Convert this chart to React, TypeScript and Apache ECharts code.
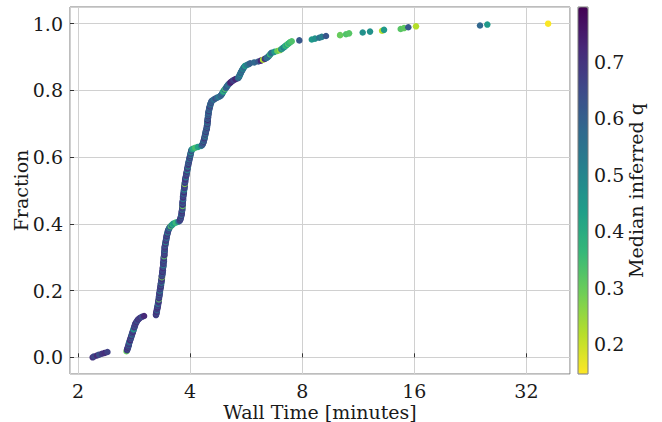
import React, { useEffect, useRef } from "react";
import * as echarts from "echarts";

// Wall time (minutes) of each run, sorted ascending; fraction = rank / (N - 1)
const wallTimeMinutes: number[] = [
  2.19, 2.21, 2.25, 2.28, 2.32, 2.36, 2.40,
  2.70, 2.71, 2.71, 2.72, 2.72, 2.73, 2.73, 2.74, 2.74, 2.74, 2.75, 2.75, 2.76, 2.76,
  2.77, 2.77, 2.78, 2.78, 2.79, 2.79, 2.80, 2.80, 2.81, 2.81,
  2.82, 2.82, 2.83, 2.83, 2.84, 2.84, 2.85, 2.85, 2.86,
  2.87, 2.88, 2.89, 2.90, 2.92, 2.94,
  2.97, 3.01,
  3.24, 3.24, 3.25, 3.25, 3.25, 3.26, 3.26, 3.26, 3.27, 3.27, 3.27,
  3.28, 3.28, 3.28, 3.29, 3.29, 3.29, 3.29, 3.30, 3.30, 3.30, 3.30, 3.31, 3.31, 3.31, 3.31, 3.32, 3.32, 3.32, 3.32,
  3.33, 3.33, 3.33, 3.34, 3.34, 3.34, 3.34, 3.35, 3.35, 3.35, 3.35, 3.36, 3.36, 3.36, 3.36, 3.36, 3.37, 3.37, 3.37, 3.37, 3.38, 3.38, 3.38,
  3.38, 3.38, 3.39, 3.39, 3.39, 3.39, 3.39, 3.39, 3.40, 3.40, 3.40, 3.40, 3.40, 3.40, 3.41, 3.41, 3.41, 3.41, 3.41, 3.41, 3.42, 3.42, 3.42, 3.42, 3.42, 3.42,
  3.43, 3.43, 3.43, 3.44, 3.44, 3.44, 3.45, 3.45, 3.45, 3.46, 3.46, 3.46, 3.47, 3.47, 3.48, 3.48, 3.49, 3.49, 3.50,
  3.51, 3.52, 3.53, 3.55, 3.57, 3.59, 3.61,
  3.66, 3.72,
  3.75, 3.76, 3.77, 3.77, 3.78, 3.78, 3.79, 3.79, 3.80, 3.80,
  3.80, 3.80, 3.81, 3.81, 3.81, 3.81, 3.81, 3.82, 3.82, 3.82, 3.82, 3.82, 3.82, 3.83, 3.83, 3.83, 3.83, 3.83, 3.83,
  3.84, 3.84, 3.84, 3.85, 3.85, 3.85, 3.85, 3.86, 3.86, 3.86, 3.86, 3.87, 3.87, 3.87, 3.87, 3.88, 3.88, 3.88, 3.88,
  3.89, 3.89, 3.90, 3.90, 3.91, 3.91, 3.91, 3.92, 3.92, 3.93, 3.93, 3.93, 3.94, 3.94, 3.95, 3.95, 3.95, 3.96, 3.96,
  3.97, 3.97, 3.98, 3.98, 3.99, 3.99, 4.00, 4.00, 4.01, 4.01, 4.02, 4.02, 4.03, 4.03, 4.04,
  4.08, 4.13, 4.20, 4.28,
  4.31, 4.32, 4.33, 4.34, 4.35, 4.35, 4.36, 4.37, 4.37, 4.38, 4.38, 4.39, 4.39, 4.40, 4.40, 4.41, 4.41, 4.42, 4.43,
  4.43, 4.44, 4.44, 4.44, 4.45, 4.45, 4.45, 4.45, 4.46, 4.46, 4.46, 4.46, 4.47, 4.47, 4.47, 4.47, 4.48, 4.48, 4.48,
  4.49, 4.49, 4.50, 4.50, 4.51, 4.51, 4.52, 4.53, 4.53, 4.54, 4.55, 4.56, 4.57,
  4.60, 4.64, 4.68, 4.73, 4.79, 4.83, 4.85, 4.87, 4.88, 4.90, 4.91,
  4.93, 4.95, 4.97, 4.99, 5.01, 5.03, 5.05, 5.07,
  5.10, 5.13, 5.16, 5.20, 5.24, 5.30, 5.38,
  5.40, 5.42, 5.43, 5.44, 5.46, 5.47, 5.48, 5.50, 5.52, 5.53, 5.55, 5.57, 5.59, 5.62,
  5.68, 5.75, 5.80, 5.95, 6.10,
  6.20, 6.28, 6.35, 6.42,
  6.46, 6.50, 6.53, 6.56, 6.59, 6.62,
  6.74, 6.86, 6.98,
  7.03, 7.08, 7.13, 7.18, 7.23, 7.28, 7.33, 7.38, 7.43,
  7.50, 7.86, 8.49, 8.66, 8.89, 9.03, 9.27, 10.11, 10.49, 10.69, 11.63, 12.17, 13.11, 13.27,
  14.71, 15.02, 15.42, 16.17, 24.02, 25.13, 36.6,
];

// Median inferred q of each run (same order as wallTimeMinutes)
const medianInferredQ: number[] = [
  0.70, 0.66, 0.72, 0.64, 0.69, 0.71, 0.67,
  0.30, 0.66, 0.70, 0.62, 0.72, 0.65, 0.68, 0.58, 0.70, 0.66, 0.64, 0.52, 0.69, 0.73,
  0.65, 0.68, 0.60, 0.71, 0.66, 0.55, 0.69, 0.64, 0.72, 0.67,
  0.65, 0.47, 0.45, 0.68, 0.70, 0.62, 0.67, 0.69, 0.64,
  0.71, 0.66, 0.63, 0.70, 0.67, 0.69,
  0.65, 0.72,
  0.66, 0.71, 0.62, 0.68, 0.72, 0.65, 0.56, 0.69, 0.66, 0.73, 0.63,
  0.67, 0.70, 0.52, 0.65, 0.69, 0.72, 0.64, 0.30, 0.68, 0.71, 0.63, 0.66, 0.69, 0.58, 0.72, 0.65, 0.67, 0.48, 0.70,
  0.66, 0.63, 0.69, 0.72, 0.61, 0.67, 0.70, 0.46, 0.65, 0.68, 0.64, 0.71, 0.67, 0.28, 0.70, 0.66, 0.62, 0.68, 0.56, 0.72, 0.65, 0.67, 0.63,
  0.69, 0.72, 0.62, 0.66, 0.50, 0.70, 0.65, 0.68, 0.63, 0.71, 0.58, 0.66, 0.70, 0.64, 0.32, 0.68, 0.72, 0.62, 0.67, 0.65, 0.70, 0.54, 0.68, 0.63, 0.71, 0.66,
  0.65, 0.60, 0.70, 0.68, 0.45, 0.66, 0.72, 0.63, 0.68, 0.55, 0.65, 0.70, 0.61, 0.67, 0.71, 0.48, 0.65, 0.69, 0.63,
  0.66, 0.50, 0.63, 0.34, 0.58, 0.38, 0.45,
  0.36, 0.50,
  0.63, 0.68, 0.65, 0.71, 0.60, 0.66, 0.70, 0.55, 0.65, 0.68,
  0.63, 0.71, 0.66, 0.53, 0.69, 0.64, 0.68, 0.30, 0.62, 0.71, 0.66, 0.58, 0.70, 0.65, 0.68, 0.50, 0.63, 0.72, 0.66,
  0.65, 0.69, 0.56, 0.68, 0.72, 0.62, 0.66, 0.45, 0.70, 0.64, 0.68, 0.63, 0.71, 0.27, 0.66, 0.69, 0.60, 0.65, 0.68,
  0.71, 0.63, 0.52, 0.66, 0.70, 0.64, 0.68, 0.56, 0.72, 0.62, 0.48, 0.66, 0.70, 0.64, 0.42, 0.68, 0.63, 0.71, 0.55,
  0.66, 0.60, 0.70, 0.50, 0.64, 0.68, 0.58, 0.71, 0.52, 0.63, 0.66, 0.46, 0.57, 0.69, 0.50,
  0.40, 0.34, 0.42, 0.48,
  0.62, 0.55, 0.66, 0.58, 0.70, 0.52, 0.64, 0.60, 0.72, 0.57, 0.65, 0.45, 0.68, 0.61, 0.55, 0.70, 0.63, 0.58, 0.66,
  0.60, 0.72, 0.55, 0.65, 0.58, 0.70, 0.62, 0.50, 0.67, 0.60, 0.74, 0.56, 0.64, 0.59, 0.71, 0.53, 0.66, 0.61, 0.57,
  0.62, 0.68, 0.55, 0.60, 0.64, 0.57, 0.70, 0.59, 0.63, 0.52, 0.66, 0.58, 0.62,
  0.60, 0.55, 0.64, 0.58, 0.52, 0.60, 0.56, 0.62, 0.58, 0.55, 0.40,
  0.38, 0.55, 0.33, 0.60, 0.57, 0.62, 0.58, 0.54,
  0.60, 0.72, 0.74, 0.70, 0.66, 0.73, 0.62,
  0.55, 0.60, 0.52, 0.58, 0.48, 0.62, 0.56, 0.53, 0.60, 0.57, 0.50, 0.55, 0.58, 0.45,
  0.52, 0.55, 0.60, 0.58, 0.62,
  0.73, 0.22, 0.70, 0.55,
  0.58, 0.52, 0.60, 0.35, 0.48, 0.57,
  0.45, 0.30, 0.25,
  0.50, 0.40, 0.55, 0.45, 0.36, 0.42, 0.33, 0.38, 0.35,
  0.33, 0.62, 0.45, 0.47, 0.55, 0.52, 0.62, 0.30, 0.33, 0.32, 0.47, 0.47, 0.22, 0.45,
  0.32, 0.31, 0.62, 0.22, 0.58, 0.45, 0.15,
];

const qRange = [0.147, 0.797];
const viridisReversed = [
  "#fde725", "#b5de2b", "#6ece58", "#35b779", "#1f9e89",
  "#26828e", "#31688e", "#3e4989", "#482878", "#440154",
];

const FONT = "DejaVu Serif";
const TEXT = "#1a1a1a";
const FS = 19;

export default function App() {
  const ref = useRef<HTMLDivElement>(null);

  useEffect(() => {
    document.body.style.margin = "0";
    if (!ref.current) return;
    const chart = echarts.init(ref.current, undefined, { renderer: "svg" });
    const n = wallTimeMinutes.length;
    const data = wallTimeMinutes.map((x, i) => [
      x,
      i / (n - 1),
      medianInferredQ[i] ?? 0.65,
    ]);

    chart.setOption({
      animation: false,
      backgroundColor: "#ffffff",
      textStyle: { fontFamily: FONT, color: TEXT },
      grid: [
        {
          left: 70, top: 7, width: 500, height: 367, show: true,
          borderColor: "#7a7a7a", borderWidth: 1, backgroundColor: "transparent",
          containLabel: false, outerBoundsMode: "none",
        },
        {
          left: 578, top: 7, width: 10, height: 367, show: true,
          borderColor: "#7a7a7a", borderWidth: 1, backgroundColor: "transparent", z: 10,
          containLabel: false, outerBoundsMode: "none",
        },
      ],
      xAxis: [
        {
          gridIndex: 0,
          type: "log",
          logBase: 2,
          min: 1.904,
          max: 41.9,
          name: "Wall Time [minutes]",
          nameLocation: "middle",
          nameGap: 28,
          nameMoveOverlap: false,
          nameTextStyle: { fontFamily: FONT, fontSize: FS, color: TEXT },
          axisLine: { show: false },
          axisTick: { show: true, inside: true, length: 4, lineStyle: { color: "#333" } },
          axisLabel: { showMinLabel: false, showMaxLabel: false, fontFamily: FONT, fontSize: FS, color: TEXT, margin: 7 },
          splitLine: { show: true, lineStyle: { color: "#d0d0d0", width: 1 } },
        },
        { gridIndex: 1, type: "value", show: false, min: 0, max: 1 },
      ],
      yAxis: [
        {
          gridIndex: 0,
          type: "value",
          min: -0.05,
          max: 1.05,
          name: "Fraction",
          nameLocation: "middle",
          nameGap: 40,
          nameMoveOverlap: false,
          nameTextStyle: { fontFamily: FONT, fontSize: FS, color: TEXT },
          axisLine: { show: false },
          axisTick: { show: true, inside: true, length: 4, lineStyle: { color: "#333" } },
          axisLabel: {
            showMinLabel: false,
            showMaxLabel: false,
            fontFamily: FONT,
            fontSize: FS,
            color: TEXT,
            margin: 7,
            formatter: (v: number) => v.toFixed(1),
          },
          splitLine: { show: true, lineStyle: { color: "#d0d0d0", width: 1 } },
        },
        {
          gridIndex: 1,
          type: "value",
          position: "right",
          min: qRange[0],
          max: qRange[1],
          name: "Median inferred q",
          nameLocation: "middle",
          nameGap: 38,
          nameMoveOverlap: false,
          nameTextStyle: { fontFamily: FONT, fontSize: FS, color: TEXT },
          axisLine: { show: false },
          axisTick: { show: true, inside: false, length: 4, lineStyle: { color: "#333" } },
          axisLabel: {
            showMinLabel: false,
            showMaxLabel: false,
            fontFamily: FONT,
            fontSize: FS,
            color: TEXT,
            margin: 6,
            formatter: (v: number) => v.toFixed(1),
          },
          splitLine: { show: false },
        },
      ],
      visualMap: {
        type: "continuous",
        min: qRange[0],
        max: qRange[1],
        dimension: 2,
        seriesIndex: 0,
        calculable: false,
        realtime: false,
        hoverLink: false,
        left: 578,
        top: 7,
        itemWidth: 10,
        itemHeight: 367,
        padding: 0,
        showLabel: false,
        inRange: { color: viridisReversed },
      },
      series: [
        {
          type: "scatter",
          xAxisIndex: 0,
          yAxisIndex: 0,
          symbolSize: 6.5,
          data,
          itemStyle: { opacity: 1 },
        },
      ],
    });

    return () => chart.dispose();
  }, []);

  return (
    <div
      ref={ref}
      style={{ position: "absolute", left: 0, top: 0, width: 662, height: 422 }}
    />
  );
}
